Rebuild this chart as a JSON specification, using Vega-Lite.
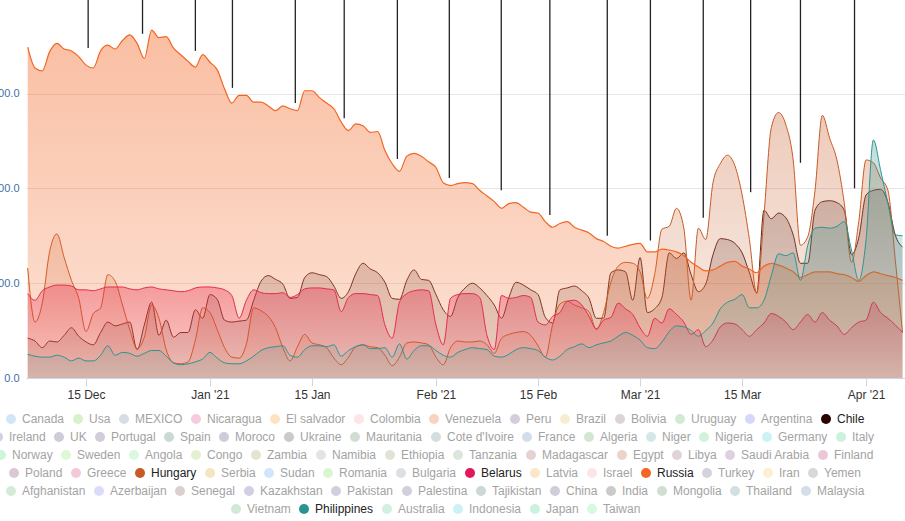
{
"$schema": "https://vega.github.io/schema/vega-lite/v6.json",
"width": 879, "height": 378,
"autosize": {"type": "none"},
"padding": {"left": 26, "top": 0, "right": 0, "bottom": 143},
"background": "white",
"config": {"view": {"stroke": null}, "font": "Liberation Sans",
 "legend": {"orient": "none", "direction": "horizontal", "symbolType": "circle", "symbolSize": 100, "symbolStrokeWidth": 0, "labelFontSize": 12, "labelFont": "Liberation Sans", "columnPadding": 7, "labelOffset": 5, "symbolLimit": 100, "labelColor": "#a3a3a3", "padding": 0}},
"resolve": {"scale": {"color": "independent"}, "legend": {"color": "independent"}},
"datasets": {
"series": [
{"date":"2020-12-07","Chile":42,"Hungary":116,"Belarus":89,"Russia":349,"Philippines":25},
{"date":"2020-12-08","Chile":39,"Hungary":59,"Belarus":82,"Russia":327,"Philippines":23},
{"date":"2020-12-09","Chile":32,"Hungary":79,"Belarus":92,"Russia":324,"Philippines":22},
{"date":"2020-12-10","Chile":39,"Hungary":133,"Belarus":96,"Russia":344,"Philippines":22},
{"date":"2020-12-11","Chile":38,"Hungary":152,"Belarus":98,"Russia":353,"Philippines":24},
{"date":"2020-12-12","Chile":45,"Hungary":127,"Belarus":98,"Russia":347,"Philippines":22},
{"date":"2020-12-13","Chile":53,"Hungary":103,"Belarus":97,"Russia":345,"Philippines":18},
{"date":"2020-12-14","Chile":44,"Hungary":84,"Belarus":93,"Russia":339,"Philippines":21},
{"date":"2020-12-15","Chile":38,"Hungary":49,"Belarus":93,"Russia":330,"Philippines":18},
{"date":"2020-12-16","Chile":35,"Hungary":68,"Belarus":92,"Russia":327,"Philippines":18},
{"date":"2020-12-17","Chile":48,"Hungary":74,"Belarus":94,"Russia":345,"Philippines":24},
{"date":"2020-12-18","Chile":59,"Hungary":109,"Belarus":96,"Russia":351,"Philippines":34},
{"date":"2020-12-19","Chile":55,"Hungary":102,"Belarus":96,"Russia":347,"Philippines":24},
{"date":"2020-12-20","Chile":57,"Hungary":77,"Belarus":96,"Russia":356,"Philippines":27},
{"date":"2020-12-21","Chile":59,"Hungary":51,"Belarus":94,"Russia":362,"Philippines":26},
{"date":"2020-12-22","Chile":30,"Hungary":31,"Belarus":93,"Russia":353,"Philippines":23},
{"date":"2020-12-23","Chile":56,"Hungary":43,"Belarus":95,"Russia":337,"Philippines":26},
{"date":"2020-12-24","Chile":80,"Hungary":77,"Belarus":96,"Russia":367,"Philippines":29},
{"date":"2020-12-25","Chile":45,"Hungary":63,"Belarus":94,"Russia":359,"Philippines":29},
{"date":"2020-12-26","Chile":61,"Hungary":30,"Belarus":93,"Russia":360,"Philippines":23},
{"date":"2020-12-27","Chile":43,"Hungary":16,"Belarus":92,"Russia":348,"Philippines":16},
{"date":"2020-12-28","Chile":48,"Hungary":15,"Belarus":91,"Russia":341,"Philippines":14},
{"date":"2020-12-29","Chile":48,"Hungary":17,"Belarus":92,"Russia":334,"Philippines":15},
{"date":"2020-12-30","Chile":72,"Hungary":40,"Belarus":95,"Russia":328,"Philippines":17},
{"date":"2020-12-31","Chile":63,"Hungary":74,"Belarus":96,"Russia":341,"Philippines":20},
{"date":"2021-01-01","Chile":88,"Hungary":69,"Belarus":96,"Russia":333,"Philippines":27},
{"date":"2021-01-02","Chile":83,"Hungary":51,"Belarus":95,"Russia":325,"Philippines":21},
{"date":"2021-01-03","Chile":61,"Hungary":32,"Belarus":93,"Russia":305,"Philippines":16},
{"date":"2021-01-04","Chile":59,"Hungary":22,"Belarus":87,"Russia":290,"Philippines":15},
{"date":"2021-01-05","Chile":60,"Hungary":21,"Belarus":63,"Russia":298,"Philippines":15},
{"date":"2021-01-06","Chile":61,"Hungary":36,"Belarus":82,"Russia":298,"Philippines":18},
{"date":"2021-01-07","Chile":82,"Hungary":74,"Belarus":93,"Russia":291,"Philippines":23},
{"date":"2021-01-08","Chile":102,"Hungary":71,"Belarus":90,"Russia":291,"Philippines":29},
{"date":"2021-01-09","Chile":108,"Hungary":65,"Belarus":89,"Russia":287,"Philippines":32},
{"date":"2021-01-10","Chile":104,"Hungary":53,"Belarus":89,"Russia":282,"Philippines":33},
{"date":"2021-01-11","Chile":99,"Hungary":32,"Belarus":90,"Russia":287,"Philippines":34},
{"date":"2021-01-12","Chile":84,"Hungary":18,"Belarus":85,"Russia":284,"Philippines":24},
{"date":"2021-01-13","Chile":85,"Hungary":33,"Belarus":88,"Russia":282,"Philippines":22},
{"date":"2021-01-14","Chile":106,"Hungary":46,"Belarus":94,"Russia":303,"Philippines":30},
{"date":"2021-01-15","Chile":111,"Hungary":37,"Belarus":95,"Russia":303,"Philippines":34},
{"date":"2021-01-16","Chile":109,"Hungary":35,"Belarus":95,"Russia":296,"Philippines":34},
{"date":"2021-01-17","Chile":107,"Hungary":32,"Belarus":94,"Russia":290,"Philippines":33},
{"date":"2021-01-18","Chile":97,"Hungary":21,"Belarus":93,"Russia":284,"Philippines":35},
{"date":"2021-01-19","Chile":84,"Hungary":14,"Belarus":70,"Russia":270,"Philippines":23},
{"date":"2021-01-20","Chile":91,"Hungary":22,"Belarus":85,"Russia":261,"Philippines":29},
{"date":"2021-01-21","Chile":110,"Hungary":33,"Belarus":89,"Russia":268,"Philippines":33},
{"date":"2021-01-22","Chile":121,"Hungary":35,"Belarus":89,"Russia":266,"Philippines":35},
{"date":"2021-01-23","Chile":115,"Hungary":33,"Belarus":88,"Russia":259,"Philippines":31},
{"date":"2021-01-24","Chile":111,"Hungary":32,"Belarus":87,"Russia":260,"Philippines":31},
{"date":"2021-01-25","Chile":101,"Hungary":24,"Belarus":56,"Russia":240,"Philippines":32},
{"date":"2021-01-26","Chile":84,"Hungary":13,"Belarus":42,"Russia":226,"Philippines":22},
{"date":"2021-01-27","Chile":83,"Hungary":22,"Belarus":80,"Russia":218,"Philippines":36},
{"date":"2021-01-28","Chile":103,"Hungary":37,"Belarus":89,"Russia":234,"Philippines":20},
{"date":"2021-01-29","Chile":114,"Hungary":38,"Belarus":92,"Russia":237,"Philippines":29},
{"date":"2021-01-30","Chile":104,"Hungary":37,"Belarus":93,"Russia":234,"Philippines":34},
{"date":"2021-01-31","Chile":103,"Hungary":35,"Belarus":92,"Russia":228,"Philippines":34},
{"date":"2021-02-01","Chile":88,"Hungary":22,"Belarus":56,"Russia":222,"Philippines":29},
{"date":"2021-02-02","Chile":72,"Hungary":14,"Belarus":35,"Russia":206,"Philippines":24},
{"date":"2021-02-03","Chile":65,"Hungary":32,"Belarus":84,"Russia":203,"Philippines":22},
{"date":"2021-02-04","Chile":85,"Hungary":39,"Belarus":88,"Russia":205,"Philippines":27},
{"date":"2021-02-05","Chile":95,"Hungary":38,"Belarus":89,"Russia":206,"Philippines":30},
{"date":"2021-02-06","Chile":100,"Hungary":38,"Belarus":89,"Russia":205,"Philippines":32},
{"date":"2021-02-07","Chile":95,"Hungary":39,"Belarus":85,"Russia":198,"Philippines":31},
{"date":"2021-02-08","Chile":87,"Hungary":35,"Belarus":45,"Russia":192,"Philippines":30},
{"date":"2021-02-09","Chile":77,"Hungary":26,"Belarus":30,"Russia":186,"Philippines":23},
{"date":"2021-02-10","Chile":63,"Hungary":42,"Belarus":87,"Russia":179,"Philippines":22},
{"date":"2021-02-11","Chile":85,"Hungary":46,"Belarus":84,"Russia":184,"Philippines":25},
{"date":"2021-02-12","Chile":101,"Hungary":48,"Belarus":85,"Russia":185,"Philippines":30},
{"date":"2021-02-13","Chile":98,"Hungary":49,"Belarus":87,"Russia":180,"Philippines":32},
{"date":"2021-02-14","Chile":93,"Hungary":45,"Belarus":85,"Russia":175,"Philippines":31},
{"date":"2021-02-15","Chile":88,"Hungary":34,"Belarus":59,"Russia":174,"Philippines":29},
{"date":"2021-02-16","Chile":64,"Hungary":22,"Belarus":56,"Russia":165,"Philippines":22},
{"date":"2021-02-17","Chile":58,"Hungary":56,"Belarus":65,"Russia":159,"Philippines":19},
{"date":"2021-02-18","Chile":93,"Hungary":78,"Belarus":69,"Russia":163,"Philippines":23},
{"date":"2021-02-19","Chile":95,"Hungary":81,"Belarus":81,"Russia":165,"Philippines":30},
{"date":"2021-02-20","Chile":97,"Hungary":77,"Belarus":82,"Russia":159,"Philippines":33},
{"date":"2021-02-21","Chile":92,"Hungary":74,"Belarus":77,"Russia":156,"Philippines":36},
{"date":"2021-02-22","Chile":84,"Hungary":70,"Belarus":65,"Russia":153,"Philippines":32},
{"date":"2021-02-23","Chile":63,"Hungary":51,"Belarus":52,"Russia":147,"Philippines":35},
{"date":"2021-02-24","Chile":63,"Hungary":69,"Belarus":61,"Russia":144,"Philippines":37},
{"date":"2021-02-25","Chile":111,"Hungary":101,"Belarus":64,"Russia":139,"Philippines":39},
{"date":"2021-02-26","Chile":114,"Hungary":118,"Belarus":79,"Russia":137,"Philippines":44},
{"date":"2021-02-27","Chile":112,"Hungary":122,"Belarus":73,"Russia":139,"Philippines":48},
{"date":"2021-02-28","Chile":82,"Hungary":121,"Belarus":67,"Russia":141,"Philippines":45},
{"date":"2021-03-01","Chile":127,"Hungary":112,"Belarus":53,"Russia":142,"Philippines":40},
{"date":"2021-03-02","Chile":69,"Hungary":84,"Belarus":44,"Russia":133,"Philippines":32},
{"date":"2021-03-03","Chile":73,"Hungary":109,"Belarus":63,"Russia":133,"Philippines":31},
{"date":"2021-03-04","Chile":85,"Hungary":157,"Belarus":58,"Russia":136,"Philippines":38},
{"date":"2021-03-05","Chile":132,"Hungary":160,"Belarus":73,"Russia":135,"Philippines":49},
{"date":"2021-03-06","Chile":126,"Hungary":179,"Belarus":67,"Russia":133,"Philippines":55},
{"date":"2021-03-07","Chile":132,"Hungary":158,"Belarus":59,"Russia":129,"Philippines":54},
{"date":"2021-03-08","Chile":109,"Hungary":82,"Belarus":46,"Russia":122,"Philippines":50},
{"date":"2021-03-09","Chile":91,"Hungary":158,"Belarus":51,"Russia":117,"Philippines":44},
{"date":"2021-03-10","Chile":99,"Hungary":146,"Belarus":33,"Russia":113,"Philippines":50},
{"date":"2021-03-11","Chile":130,"Hungary":206,"Belarus":40,"Russia":114,"Philippines":58},
{"date":"2021-03-12","Chile":147,"Hungary":226,"Belarus":54,"Russia":118,"Philippines":73},
{"date":"2021-03-13","Chile":146,"Hungary":235,"Belarus":58,"Russia":122,"Philippines":80},
{"date":"2021-03-14","Chile":142,"Hungary":224,"Belarus":57,"Russia":123,"Philippines":83},
{"date":"2021-03-15","Chile":132,"Hungary":193,"Belarus":51,"Russia":118,"Philippines":88},
{"date":"2021-03-16","Chile":111,"Hungary":146,"Belarus":44,"Russia":115,"Philippines":74},
{"date":"2021-03-17","Chile":90,"Hungary":89,"Belarus":51,"Russia":111,"Philippines":74},
{"date":"2021-03-18","Chile":177,"Hungary":172,"Belarus":58,"Russia":118,"Philippines":82},
{"date":"2021-03-19","Chile":168,"Hungary":264,"Belarus":68,"Russia":121,"Philippines":108},
{"date":"2021-03-20","Chile":174,"Hungary":280,"Belarus":65,"Russia":119,"Philippines":131},
{"date":"2021-03-21","Chile":169,"Hungary":267,"Belarus":59,"Russia":116,"Philippines":129},
{"date":"2021-03-22","Chile":151,"Hungary":230,"Belarus":51,"Russia":112,"Philippines":132},
{"date":"2021-03-23","Chile":121,"Hungary":140,"Belarus":59,"Russia":106,"Philippines":103},
{"date":"2021-03-24","Chile":121,"Hungary":149,"Belarus":67,"Russia":109,"Philippines":140},
{"date":"2021-03-25","Chile":177,"Hungary":198,"Belarus":59,"Russia":112,"Philippines":158},
{"date":"2021-03-26","Chile":186,"Hungary":277,"Belarus":69,"Russia":112,"Philippines":159},
{"date":"2021-03-27","Chile":187,"Hungary":253,"Belarus":61,"Russia":112,"Philippines":158},
{"date":"2021-03-28","Chile":185,"Hungary":230,"Belarus":55,"Russia":110,"Philippines":160},
{"date":"2021-03-29","Chile":177,"Hungary":185,"Belarus":46,"Russia":109,"Philippines":165},
{"date":"2021-03-30","Chile":130,"Hungary":122,"Belarus":53,"Russia":106,"Philippines":135},
{"date":"2021-03-31","Chile":148,"Hungary":165,"Belarus":59,"Russia":102,"Philippines":103},
{"date":"2021-04-01","Chile":193,"Hungary":230,"Belarus":61,"Russia":108,"Philippines":146},
{"date":"2021-04-02","Chile":198,"Hungary":227,"Belarus":80,"Russia":112,"Philippines":251},
{"date":"2021-04-03","Chile":199,"Hungary":211,"Belarus":69,"Russia":110,"Philippines":219},
{"date":"2021-04-04","Chile":185,"Hungary":198,"Belarus":63,"Russia":108,"Philippines":184},
{"date":"2021-04-05","Chile":151,"Hungary":125,"Belarus":56,"Russia":106,"Philippines":151},
{"date":"2021-04-06","Chile":138,"Hungary":48,"Belarus":48,"Russia":103,"Philippines":150}
],
"events": [
{"date":"2020-12-15T07:00:00Z","end":348},
{"date":"2020-12-22T18:00:00Z","end":363},
{"date":"2020-12-30T00:00:00Z","end":345},
{"date":"2021-01-04T02:00:00Z","end":306},
{"date":"2021-01-12T17:00:00Z","end":290},
{"date":"2021-01-19T10:00:00Z","end":274},
{"date":"2021-01-26T17:00:00Z","end":231},
{"date":"2021-02-02T20:00:00Z","end":211},
{"date":"2021-02-09T23:00:00Z","end":198},
{"date":"2021-02-16T15:00:00Z","end":172},
{"date":"2021-02-24T12:00:00Z","end":150},
{"date":"2021-03-02T10:00:00Z","end":145},
{"date":"2021-03-09T16:00:00Z","end":169},
{"date":"2021-03-16T04:00:00Z","end":196},
{"date":"2021-03-23T00:00:00Z","end":227},
{"date":"2021-03-30T10:00:00Z","end":200}
]
},
"layer": [
{
"data": {"name": "series"},
"transform": [{"fold": ["Chile","Hungary","Belarus","Russia","Philippines"], "as": ["country","value"]}],
"encoding": {
 "x": {"field": "date", "type": "temporal", "title": null,
  "scale": {"type": "utc", "domain": [{"year":2020,"month":12,"date":6,"hours":18,"minutes":24,"utc":true},{"year":2021,"month":4,"date":6,"hours":8,"minutes":10,"utc":true}]},
  "axis": {"values": [{"year":2020,"month":12,"date":15,"utc":true},{"year":2021,"month":1,"date":1,"utc":true},{"year":2021,"month":1,"date":15,"utc":true},{"year":2021,"month":2,"date":1,"utc":true},{"year":2021,"month":2,"date":15,"utc":true},{"year":2021,"month":3,"date":1,"utc":true},{"year":2021,"month":3,"date":15,"utc":true},{"year":2021,"month":4,"date":1,"utc":true}],
   "labelExpr": "utcdate(datum.value) == 1 ? utcFormat(datum.value, \"%b '%y\") : utcFormat(datum.value, '%d %b')",
   "grid": false, "domainColor": "#ccd6eb", "tickColor": "#ccd6eb", "tickSize": 8, "labelFontSize": 12, "labelColor": "#333333", "labelPadding": 3, "labelFont": "Liberation Sans", "labelFlush": false}},
 "y": {"field": "value", "type": "quantitative", "stack": null, "title": null,
  "scale": {"domain": [0, 398.7], "nice": false},
  "axis": {"values": [0,100,200,300], "format": ".1f", "grid": true, "gridColor": "#e6e6e6", "domain": false, "ticks": false, "labelPadding": 7, "labelFontSize": 11, "labelColor": "#3f6fa8", "labelFont": "Liberation Sans"}}
},
"layer": [
{"transform": [{"filter": "datum.country === 'Chile'"}],
 "mark": {"type": "area", "interpolate": "monotone", "line": false, "fill": {"gradient": "linear", "x1": 0, "y1": 0, "x2": 0, "y2": 1, "stops": [{"offset": 0, "color": "rgba(43,0,0,0.22)"}, {"offset": 1, "color": "rgba(43,0,0,0.1)"}]}},
 "encoding": {}},
{"transform": [{"filter": "datum.country === 'Chile'"}],
 "mark": {"type": "line", "interpolate": "monotone", "strokeWidth": 1, "color": "#5b2720"}, "encoding": {}},
{"transform": [{"filter": "datum.country === 'Hungary'"}],
 "mark": {"type": "area", "interpolate": "monotone", "line": false, "fill": {"gradient": "linear", "x1": 0, "y1": 0, "x2": 0, "y2": 1, "stops": [{"offset": 0, "color": "rgba(199,91,39,0.32)"}, {"offset": 1, "color": "rgba(199,91,39,0.08)"}]}},
 "encoding": {}},
{"transform": [{"filter": "datum.country === 'Hungary'"}],
 "mark": {"type": "line", "interpolate": "monotone", "strokeWidth": 1, "color": "#c75b27"}, "encoding": {}},
{"transform": [{"filter": "datum.country === 'Belarus'"}],
 "mark": {"type": "area", "interpolate": "monotone", "line": false, "fill": {"gradient": "linear", "x1": 0, "y1": 0, "x2": 0, "y2": 1, "stops": [{"offset": 0, "color": "rgba(227,24,91,0.36)"}, {"offset": 1, "color": "rgba(227,24,91,0.08)"}]}},
 "encoding": {}},
{"transform": [{"filter": "datum.country === 'Belarus'"}],
 "mark": {"type": "line", "interpolate": "monotone", "strokeWidth": 1, "color": "#e3185b"}, "encoding": {}},
{"transform": [{"filter": "datum.country === 'Russia'"}],
 "mark": {"type": "area", "interpolate": "monotone", "line": false, "fill": {"gradient": "linear", "x1": 0, "y1": 0, "x2": 0, "y2": 1, "stops": [{"offset": 0, "color": "rgba(242,101,34,0.42)"}, {"offset": 1, "color": "rgba(242,101,34,0.18)"}]}},
 "encoding": {}},
{"transform": [{"filter": "datum.country === 'Russia'"}],
 "mark": {"type": "line", "interpolate": "monotone", "strokeWidth": 1.2, "color": "#f26522"}, "encoding": {}},
{"transform": [{"filter": "datum.country === 'Philippines'"}],
 "mark": {"type": "area", "interpolate": "monotone", "line": false, "fill": {"gradient": "linear", "x1": 0, "y1": 0, "x2": 0, "y2": 1, "stops": [{"offset": 0, "color": "rgba(42,149,144,0.3)"}, {"offset": 1, "color": "rgba(42,149,144,0.1)"}]}},
 "encoding": {}},
{"transform": [{"filter": "datum.country === 'Philippines'"}],
 "mark": {"type": "line", "interpolate": "monotone", "strokeWidth": 1, "color": "#2a9590"}, "encoding": {}}
]
},
{
"data": {"name": "events"},
"mark": {"type": "rule", "color": "#222222", "strokeWidth": 1.3},
"encoding": {
 "x": {"field": "date", "type": "temporal"},
 "y": {"field": "end", "type": "quantitative"},
 "y2": {"datum": 398.7}
}
},
{
"data": {"values": [{"c":"Canada"},{"c":"Usa"},{"c":"MEXICO"},{"c":"Nicaragua"},{"c":"El salvador"},{"c":"Colombia"},{"c":"Venezuela"},{"c":"Peru"},{"c":"Brazil"},{"c":"Bolivia"},{"c":"Uruguay"},{"c":"Argentina"},{"c":"Chile"}]},
"transform": [{"filter": "false"}],
"mark": {"type": "point", "filled": true, "opacity": 0},
"encoding": {"color": {"field": "c", "type": "nominal", "title": null,
 "scale": {"domain": ["Canada","Usa","MEXICO","Nicaragua","El salvador","Colombia","Venezuela","Peru","Brazil","Bolivia","Uruguay","Argentina","Chile"], "range": ["#d3e5f8","#d6f2cc","#d7dde2","#f6cbdc","#fde3c3","#fde4e7","#f8d3c2","#d2cfdb","#f8edd2","#dcd5d8","#d3ebd4","#d7d7fb","#2b0000"]},
 "legend": {"legendX": -21, "legendY": 413, "encode": {"symbols": {"update": {"opacity": {"value": 1}}}, "labels": {"update": {"fill": {"signal": "indexof(['Chile','Hungary','Belarus','Russia','Philippines'], datum.value) >= 0 ? '#222222' : '#a3a3a3'"}}}}}}}
},
{
"data": {"values": [{"c":"Ireland"},{"c":"UK"},{"c":"Portugal"},{"c":"Spain"},{"c":"Moroco"},{"c":"Ukraine"},{"c":"Mauritania"},{"c":"Cote d'Ivoire"},{"c":"France"},{"c":"Algeria"},{"c":"Niger"},{"c":"Nigeria"},{"c":"Germany"},{"c":"Italy"}]},
"transform": [{"filter": "false"}],
"mark": {"type": "point", "filled": true, "opacity": 0},
"encoding": {"color": {"field": "c", "type": "nominal", "title": null,
 "scale": {"domain": ["Ireland","UK","Portugal","Spain","Moroco","Ukraine","Mauritania","Cote d'Ivoire","France","Algeria","Niger","Nigeria","Germany","Italy"], "range": ["#d2cfe2","#cfcbd9","#d1cdd9","#c9d9d3","#d0cbd9","#cbc9cb","#d2ddd2","#d4dede","#d4deea","#d2e7d1","#d3e6e8","#d1f1dc","#ccf3f4","#ccf1dd"]},
 "legend": {"legendX": -34, "legendY": 431, "encode": {"symbols": {"update": {"opacity": {"value": 1}}}, "labels": {"update": {"fill": {"signal": "indexof(['Chile','Hungary','Belarus','Russia','Philippines'], datum.value) >= 0 ? '#222222' : '#a3a3a3'"}}}}}}}
},
{
"data": {"values": [{"c":"Norway"},{"c":"Sweden"},{"c":"Angola"},{"c":"Congo"},{"c":"Zambia"},{"c":"Namibia"},{"c":"Ethiopia"},{"c":"Tanzania"},{"c":"Madagascar"},{"c":"Egypt"},{"c":"Libya"},{"c":"Saudi Arabia"},{"c":"Finland"}]},
"transform": [{"filter": "false"}],
"mark": {"type": "point", "filled": true, "opacity": 0},
"encoding": {"color": {"field": "c", "type": "nominal", "title": null,
 "scale": {"domain": ["Norway","Sweden","Angola","Congo","Zambia","Namibia","Ethiopia","Tanzania","Madagascar","Egypt","Libya","Saudi Arabia","Finland"], "range": ["#cff6da","#dff8d8","#dbf8e1","#e3f1d1","#e4e4d0","#e4e4e4","#e2e3d8","#dbe6dc","#e5d3d4","#ebd4c7","#e0d4d8","#ddd0e0","#ebc8d7"]},
 "legend": {"legendX": -31, "legendY": 449, "encode": {"symbols": {"update": {"opacity": {"value": 1}}}, "labels": {"update": {"fill": {"signal": "indexof(['Chile','Hungary','Belarus','Russia','Philippines'], datum.value) >= 0 ? '#222222' : '#a3a3a3'"}}}}}}}
},
{
"data": {"values": [{"c":"Poland"},{"c":"Greece"},{"c":"Hungary"},{"c":"Serbia"},{"c":"Sudan"},{"c":"Romania"},{"c":"Bulgaria"},{"c":"Belarus"},{"c":"Latvia"},{"c":"Israel"},{"c":"Russia"},{"c":"Turkey"},{"c":"Iran"},{"c":"Yemen"}]},
"transform": [{"filter": "false"}],
"mark": {"type": "point", "filled": true, "opacity": 0},
"encoding": {"color": {"field": "c", "type": "nominal", "title": null,
 "scale": {"domain": ["Poland","Greece","Hungary","Serbia","Sudan","Romania","Bulgaria","Belarus","Latvia","Israel","Russia","Turkey","Iran","Yemen"], "range": ["#dcc8d5","#f4c8d7","#c75b27","#f5e6c1","#d2e5fb","#dbf5d0","#dce0e5","#e3185b","#fde5c7","#fde6ea","#f26522","#d5d2de","#fbf0d2","#dbd7d7"]},
 "legend": {"legendX": -18, "legendY": 467, "encode": {"symbols": {"update": {"opacity": {"value": 1}}}, "labels": {"update": {"fill": {"signal": "indexof(['Chile','Hungary','Belarus','Russia','Philippines'], datum.value) >= 0 ? '#222222' : '#a3a3a3'"}}}}}}}
},
{
"data": {"values": [{"c":"Afghanistan"},{"c":"Azerbaijan"},{"c":"Senegal"},{"c":"Kazakhstan"},{"c":"Pakistan"},{"c":"Palestina"},{"c":"Tajikistan"},{"c":"China"},{"c":"India"},{"c":"Mongolia"},{"c":"Thailand"},{"c":"Malaysia"}]},
"transform": [{"filter": "false"}],
"mark": {"type": "point", "filled": true, "opacity": 0},
"encoding": {"color": {"field": "c", "type": "nominal", "title": null,
 "scale": {"domain": ["Afghanistan","Azerbaijan","Senegal","Kazakhstan","Pakistan","Palestina","Tajikistan","China","India","Mongolia","Thailand","Malaysia"], "range": ["#d5ebd6","#dbdbfb","#dccfcf","#d1cfe5","#d1cfdb","#d1cfdb","#cbd8d3","#cfcfd9","#cbcbcb","#d1dfd3","#d4dfdf","#d4dee9"]},
 "legend": {"legendX": -21, "legendY": 485, "encode": {"symbols": {"update": {"opacity": {"value": 1}}}, "labels": {"update": {"fill": {"signal": "indexof(['Chile','Hungary','Belarus','Russia','Philippines'], datum.value) >= 0 ? '#222222' : '#a3a3a3'"}}}}}}}
},
{
"data": {"values": [{"c":"Vietnam"},{"c":"Philippines"},{"c":"Australia"},{"c":"Indonesia"},{"c":"Japan"},{"c":"Taiwan"}]},
"transform": [{"filter": "false"}],
"mark": {"type": "point", "filled": true, "opacity": 0},
"encoding": {"color": {"field": "c", "type": "nominal", "title": null,
 "scale": {"domain": ["Vietnam","Philippines","Australia","Indonesia","Japan","Taiwan"], "range": ["#d3e9d7","#2a9590","#d1f0df","#ccf2f6","#cbf2df","#d5fbdc"]},
 "legend": {"legendX": 204, "legendY": 503, "encode": {"symbols": {"update": {"opacity": {"value": 1}}}, "labels": {"update": {"fill": {"signal": "indexof(['Chile','Hungary','Belarus','Russia','Philippines'], datum.value) >= 0 ? '#222222' : '#a3a3a3'"}}}}}}}
}
]
}
